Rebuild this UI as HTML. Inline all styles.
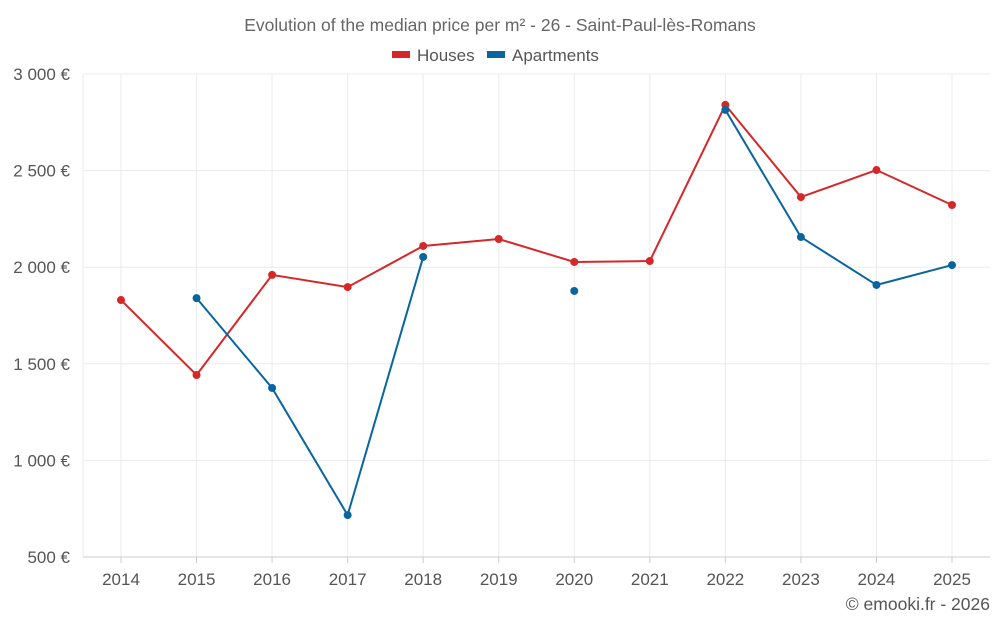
<!DOCTYPE html>
<html><head><meta charset="utf-8"><style>
body{margin:0;background:#fff;font-family:"Liberation Sans",sans-serif;}
svg text{font-family:"Liberation Sans",sans-serif;}
</style></head><body>
<svg id="chart" width="1000" height="625">
<text x="500" y="31" text-anchor="middle" font-size="17.5" fill="#666">Evolution of the median price per m² - 26 - Saint-Paul-lès-Romans</text>
<g>
<g><rect x="392" y="51" width="18" height="7" fill="#d62728"/><text x="417" y="61" font-size="17" fill="#555">Houses</text></g>
<g><rect x="487" y="51" width="18" height="7" fill="#0865a0"/><text x="512" y="61" font-size="17" fill="#555">Apartments</text></g>
</g>
<g id="grid"></g><g id="axes"></g><g id="series"></g>
<text x="990" y="610" text-anchor="end" font-size="17.5" fill="#555">© emooki.fr - 2026</text>
</svg>
<script>
const years=[2014,2015,2016,2017,2018,2019,2020,2021,2022,2023,2024,2025];
const houses=[1830,1442,1960,1897,2110,2146,2027,2032,2840,2363,2503,2322];
const apartments=[null,1840,1375,717,2053,null,1877,null,2814,2156,1908,2011];
const yTicks=[500,1000,1500,2000,2500,3000];
const yTickLabels=["500 €","1 000 €","1 500 €","2 000 €","2 500 €","3 000 €"];
const NS="http://www.w3.org/2000/svg";
const L=83,R=990,T=74,B=557;
const x=i=>121+i*(952-121)/(years.length-1);
const y=v=>B-(v-500)*(B-T)/2500;
function mk(t,a,p){const e=document.createElementNS(NS,t);for(const k in a)e.setAttribute(k,a[k]);p.appendChild(e);return e;}
const grid=document.getElementById('grid'),axes=document.getElementById('axes'),ser=document.getElementById('series');
yTicks.forEach((v,i)=>{
 const g=mk('line',{x1:L,x2:R,y1:y(v),y2:y(v),stroke:'#ebebeb'},grid);
 
 
 const t=mk('text',{x:70,y:y(v)+6,'text-anchor':'end','font-size':17,fill:'#555'},axes);
 t.textContent=yTickLabels[i];
 
 
});
years.forEach((yr,i)=>{
 const g=mk('line',{x1:x(i),x2:x(i),y1:T,y2:B,stroke:'#ebebeb'},grid);
 
 
 const tk=mk('line',{x1:x(i),x2:x(i),y1:B,y2:B+6,stroke:'#ccc'},axes);
 
 
 const t=mk('text',{x:x(i),y:585,'text-anchor':'middle','font-size':17,fill:'#555'},axes);
 t.textContent=yr;
 
 
});
const lv=mk('line',{x1:L,x2:L,y1:T,y2:B,stroke:'#ebebeb'},grid);


const ax=mk('line',{x1:L,x2:R,y1:B,y2:B,stroke:'#ccc'},axes);


function draw(vals,color,name){
 let segs=[],cur=[];
 vals.forEach((v,i)=>{if(v==null){if(cur.length)segs.push(cur);cur=[];}else cur.push([x(i),y(v)]);});
 if(cur.length)segs.push(cur);
 segs.forEach(s=>{if(s.length>1){const p=mk('polyline',{points:s.map(q=>q.join(',')).join(' '),fill:'none',stroke:color,'stroke-width':2},ser);
  
  }});
 vals.forEach((v,i)=>{if(v==null)return;const c=mk('circle',{cx:x(i),cy:y(v),r:4,fill:color},ser);
  
  });
}
draw(houses,'#d62728','houses');
draw(apartments,'#0865a0','apartments');
</script>
</body></html>
